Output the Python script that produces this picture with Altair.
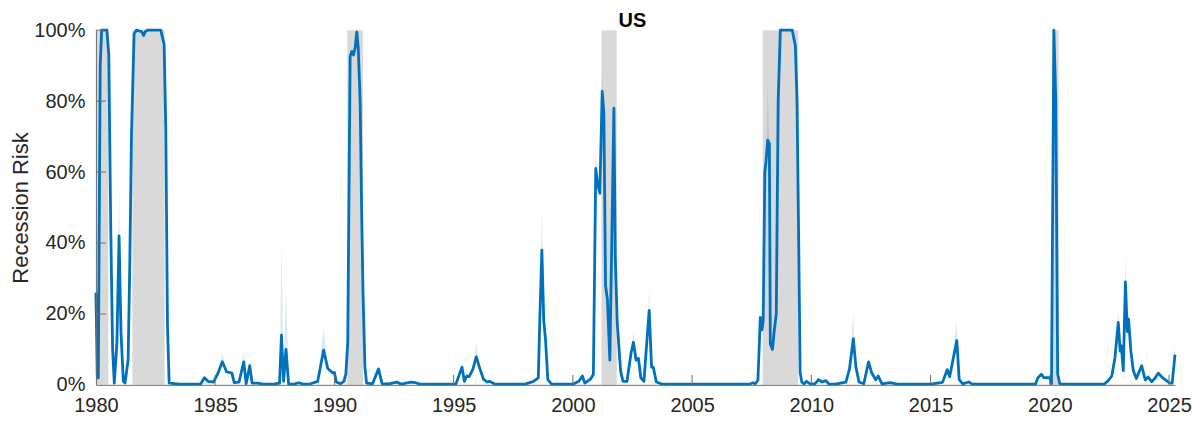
import altair as alt
import pandas as pd

# ---- Recession risk (percent) ----
years_a = [1980.00, 1980.06, 1980.10, 1980.18, 1980.24, 1980.46, 1980.54, 1980.62, 1980.70, 1980.77,
           1980.88, 1980.97, 1981.05, 1981.15, 1981.22, 1981.35, 1981.42, 1981.49, 1981.60, 1981.70,
           1981.92, 1982.00, 1982.08, 1982.16, 1982.72, 1982.86, 1982.93, 1983.00, 1983.07]
risk_a = [26, 2, 2, 90, 100, 100, 93, 45, 10, 0.5,
          12, 42, 15, 1, 0.5, 7, 34, 70, 99, 100,
          99.6, 98.5, 99.7, 100, 100, 96, 72, 17, 0.5]

years_b = [1983.50, 1984.00, 1984.40, 1984.55, 1984.70, 1984.93, 1985.10, 1985.30, 1985.48, 1985.70,
           1985.80, 1986.00, 1986.20, 1986.30, 1986.45, 1986.55, 1986.80, 1987.00, 1987.50, 1987.70,
           1987.78, 1987.87, 1987.97, 1988.08, 1988.30, 1988.50, 1988.70, 1989.00, 1989.30, 1989.55,
           1989.72, 1989.92]
risk_b = [0.2, 0.2, 0.3, 2, 1, 0.8, 3, 6.5, 3.7, 3.3,
          0.6, 0.8, 6.5, 0.3, 5.4, 0.5, 0.5, 0.2, 0.3, 0.5,
          14, 1, 10, 0.3, 0.2, 0.6, 0.2, 0.3, 1, 9.8,
          4.6, 3.4]

years_c = [1990.00, 1990.08, 1990.25, 1990.40, 1990.48, 1990.56, 1990.62, 1990.66, 1990.73, 1990.80,
           1990.87, 1990.94, 1991.00, 1991.08, 1991.14, 1991.20, 1991.28, 1991.35, 1991.60, 1991.85,
           1992.00, 1992.30, 1992.60, 1992.80, 1993.20, 1993.40, 1993.60, 1994.00, 1994.50, 1995.10,
           1995.35, 1995.45, 1995.55, 1995.65, 1995.80, 1995.95, 1996.07, 1996.25, 1996.40, 1996.50,
           1996.70, 1997.00, 1997.50, 1998.00, 1998.35, 1998.55, 1998.62, 1998.70, 1998.78, 1998.85,
           1998.95, 1999.10, 1999.50]
risk_c = [3.5, 0.8, 0.3, 1, 3, 12, 60, 92.6, 94, 93,
          95, 99.5, 95, 80, 50, 26, 5, 0.5, 0.3, 4.5,
          0.3, 0.3, 0.8, 0.2, 0.8, 0.6, 0.2, 0.2, 0.2, 0.3,
          5, 1, 2.5, 2.3, 4.3, 7.9, 5.2, 1.6, 0.8, 1,
          0.3, 0.2, 0.2, 0.2, 1, 2, 20, 38, 18, 13,
          1.5, 0.3, 0.2]

years_d = [2000.00, 2000.25, 2000.40, 2000.50, 2000.75, 2000.86, 2000.96, 2001.03, 2001.13, 2001.23,
           2001.30, 2001.37, 2001.45, 2001.55, 2001.62, 2001.72, 2001.78, 2001.86, 2002.00, 2002.10,
           2002.27, 2002.44, 2002.54, 2002.65, 2002.75, 2002.85, 2002.98, 2003.10, 2003.20, 2003.30,
           2003.37, 2003.50, 2003.70, 2004.00, 2005.00, 2006.00, 2007.00, 2007.45, 2007.55, 2007.65,
           2007.76, 2007.86, 2007.93, 2007.98, 2008.05, 2008.10, 2008.17, 2008.24, 2008.28, 2008.37,
           2008.44, 2008.53, 2008.61, 2008.70, 2009.20, 2009.33, 2009.40, 2009.47, 2009.53, 2009.60,
           2009.70]
risk_d = [0.2, 1, 2.5, 0.5, 1.7, 3, 61, 57, 54, 82.7,
          76.5, 28, 24, 7, 35.6, 78, 35.6, 17.6, 4, 1,
          1, 9, 12, 7, 7.5, 2, 1, 12, 21, 5,
          5, 0.8, 0.3, 0.2, 0.2, 0.2, 0.2, 0.3, 0.6, 0.3,
          1.3, 19, 15.5, 18, 60, 63, 69, 68, 11.5, 10,
          15, 20, 80, 100, 100, 95.6, 80, 40, 3.5, 0.8,
          0.3]

years_e = [2009.80, 2009.95, 2010.15, 2010.30, 2010.45, 2010.60, 2010.73, 2011.00, 2011.45, 2011.60,
           2011.76, 2011.87, 2012.00, 2012.20, 2012.40, 2012.53, 2012.70, 2012.80, 2012.96, 2013.30,
           2013.60, 2014.00, 2015.00, 2015.50, 2015.70, 2015.80, 2016.10, 2016.20, 2016.35, 2016.60,
           2016.75, 2017.50, 2018.50, 2019.40, 2019.50, 2019.65, 2019.75, 2020.00, 2020.07, 2020.17,
           2020.25, 2020.33, 2020.42, 2021.00, 2022.00, 2022.30, 2022.45, 2022.60, 2022.73, 2022.87,
           2022.95, 2023.00, 2023.08, 2023.17, 2023.25, 2023.30, 2023.40, 2023.50, 2023.63, 2023.85,
           2024.00, 2024.12, 2024.27, 2024.40, 2024.55, 2024.70, 2024.83, 2025.03, 2025.13, 2025.25]
risk_e = [1, 0.3, 0.3, 1.5, 0.8, 1.2, 0.3, 0.2, 0.8, 4.5,
          13, 5, 0.8, 0.3, 6.5, 3.4, 1.4, 2.5, 0.3, 0.6,
          0.2, 0.2, 0.2, 0.7, 4.3, 2.3, 12.5, 1.5, 0.3, 0.8,
          0.2, 0.2, 0.2, 0.2, 2, 3, 2, 2, 0.3, 100,
          80, 3, 0.3, 0.2, 0.2, 0.3, 1.2, 2.5, 7.6, 17.6,
          9.5, 11, 4, 29, 15, 18.6, 9.5, 4, 1.8, 5.4,
          1.4, 2.2, 0.9, 1.8, 3.3, 2.2, 1.5, 0.5, 0.5, 8.5]

# upper edge of the uncertainty band where it is visible
band_top = {1980.97: 57, 1985.30: 9, 1986.20: 9, 1987.78: 40, 1987.97: 28, 1989.55: 16,
            1995.95: 12, 1998.70: 50, 2000.96: 68, 2001.23: 90, 2002.54: 15, 2003.20: 27,
            2008.17: 85, 2011.76: 20, 2016.10: 18, 2022.87: 21, 2023.17: 37, 2025.25: 11}

# NBER recessions (shaded)
rec_start = [1980.00, 1981.53, 1990.54, 2001.20, 2007.96, 2020.10]
rec_end = [1980.52, 1982.88, 1991.20, 2001.84, 2009.45, 2020.37]

x_ticks = [1980, 1985, 1990, 1995, 2000, 2005, 2010, 2015, 2020, 2025]
y_ticks = [0, 20, 40, 60, 80, 100]
chart_title = ["US"]

years = years_a + years_b + years_c + years_d + years_e
risk = risk_a + risk_b + risk_c + risk_d + risk_e
assert len(years) == len(risk)

df = pd.DataFrame({"year": years, "risk": risk})
df["hi"] = [band_top.get(y, r) for y, r in zip(years, risk)]
rec = pd.DataFrame({"start": rec_start, "end": rec_end})
xt = pd.DataFrame({"t": x_ticks[1:]})
yt = pd.DataFrame({"v": y_ticks[1:]})
tt = pd.DataFrame({"label": chart_title})

W, H = 1080, 355
FONT = "Liberation Sans"
AX = "#6e6e6e"
TXT = "#262626"

x_scale = alt.Scale(domain=[1980, 2025.25], nice=False, zero=False)
y_scale = alt.Scale(domain=[0, 100], nice=False)

xaxis = alt.Axis(values=x_ticks, format="d", ticks=False, grid=False, title=None,
                 domainColor=AX, domainWidth=1, labelFont=FONT, labelFontSize=20,
                 labelColor=TXT, labelPadding=11, labelFlush=False, zindex=1)
yaxis = alt.Axis(values=y_ticks, labelExpr="datum.value + '%'", ticks=False, grid=False,
                 title="Recession Risk", titleFont=FONT, titleFontSize=22,
                 titleFontWeight="normal", titleColor=TXT, titlePadding=1,
                 domainColor=AX, domainWidth=1, labelFont=FONT, labelFontSize=20,
                 labelColor=TXT, labelPadding=11, zindex=1)

shade = alt.Chart(rec).mark_rect(color="#d9d9d9").encode(
    x=alt.X("start:Q", scale=x_scale, axis=xaxis),
    x2="end:Q",
    y=alt.value(0),
    y2=alt.value(H),
)

band = alt.Chart(df).mark_area(color="#0072BD", opacity=0.15).encode(
    x=alt.X("year:Q", scale=x_scale, axis=xaxis),
    y=alt.Y("hi:Q", scale=y_scale, axis=yaxis),
    y2="risk:Q",
)

line = alt.Chart(df).mark_line(color="#0072BD", strokeWidth=2.8, strokeJoin="round").encode(
    x=alt.X("year:Q", scale=x_scale, axis=xaxis),
    y=alt.Y("risk:Q", scale=y_scale, axis=yaxis),
)

xticks_layer = alt.Chart(xt).mark_rule(color=AX, strokeWidth=1).encode(
    x=alt.X("t:Q", scale=x_scale, axis=xaxis),
    y=alt.value(H),
    y2=alt.value(H - 10),
)

yticks_layer = alt.Chart(yt).mark_rule(color=AX, strokeWidth=1).encode(
    y=alt.Y("v:Q", scale=y_scale, axis=yaxis),
    x=alt.value(0),
    x2=alt.value(10),
)

title_layer = alt.Chart(tt).mark_text(
    font=FONT, fontSize=20, fontWeight="bold", color="#000000",
    align="center", baseline="alphabetic",
).encode(
    text="label:N",
    x=alt.value(W / 2 - 3),
    y=alt.value(-3),
)

chart = alt.layer(shade, band, line, xticks_layer, yticks_layer, title_layer).properties(
    width=W,
    height=H,
    autosize=alt.AutoSizeParams(type="none"),
    padding={"left": 88, "top": 22, "right": 17, "bottom": 34},
).configure_view(stroke=None)

chart.save("out.html", embed_options={"renderer": "svg", "actions": False})
